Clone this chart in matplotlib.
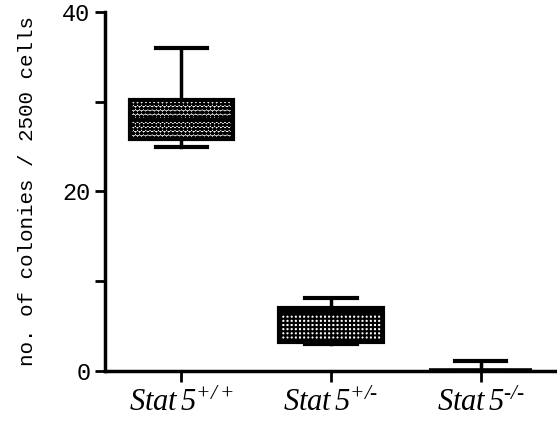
import matplotlib
matplotlib.use("Agg")
import matplotlib.pyplot as plt
import numpy as np

plt.rcParams['mathtext.fontset'] = 'custom'
plt.rcParams['mathtext.it'] = 'Liberation Serif:italic'
plt.rcParams['mathtext.rm'] = 'Liberation Serif:italic'
plt.rcParams['hatch.linewidth'] = 1.5

categories = ["$Stat\\,5^{+/+}$", "$Stat\\,5^{+/\u2010}$", "$Stat\\,5^{\u2010/\u2010}$"]
whis_low = [25, 3, 0]
q1 = [25.8, 3.2, 0]
median = [28, 6.5, 0]
q3 = [30.2, 7.0, 0]
whis_high = [36, 8.1, 1.1]
hatches = ['oooo', '++++', '']

stats = []
for i in range(len(categories)):
    stats.append(dict(med=median[i], q1=q1[i], q3=q3[i], whislo=whis_low[i],
                      whishi=whis_high[i], fliers=[]))

fig = plt.figure(figsize=(5.57, 4.21), dpi=100)
ax = fig.add_axes([0.1885, 0.1188, 0.8115, 0.8527])
bp = ax.bxp(stats, positions=[1, 2, 3], widths=0.69, patch_artist=True,
            boxprops=dict(linewidth=3, edgecolor='black'),
            whiskerprops=dict(linewidth=2.5, color='black'),
            capprops=dict(linewidth=3, color='black'),
            medianprops=dict(linewidth=3, color='black'))
for patch, h in zip(bp['boxes'], hatches):
    patch.set_facecolor('white')
    patch.set_hatch(h)
bp['boxes'][2].set_linewidth(4)

ax.set_xlim(0.49, 3.51)
ax.set_ylim(0, 40)
ax.set_yticks([0, 20, 40])
ax.set_yticks([10, 30], minor=True)
ax.set_yticklabels(['0', '20', '40'], fontfamily='Liberation Mono', fontsize=17)
ax.set_xticks([1, 2, 3])
ax.set_xticklabels(categories, fontsize=22)
ax.tick_params(axis='y', which='both', length=7, width=2)
ax.tick_params(axis='x', length=8, width=2, pad=4)
for s in ['top', 'right']:
    ax.spines[s].set_visible(False)
ax.spines['left'].set_linewidth(2.5)
ax.spines['bottom'].set_linewidth(2.5)
ax.set_ylabel('no. of colonies / 2500 cells', fontfamily='Liberation Mono', fontsize=15, labelpad=18)

fig.savefig('out.png', dpi=100)
